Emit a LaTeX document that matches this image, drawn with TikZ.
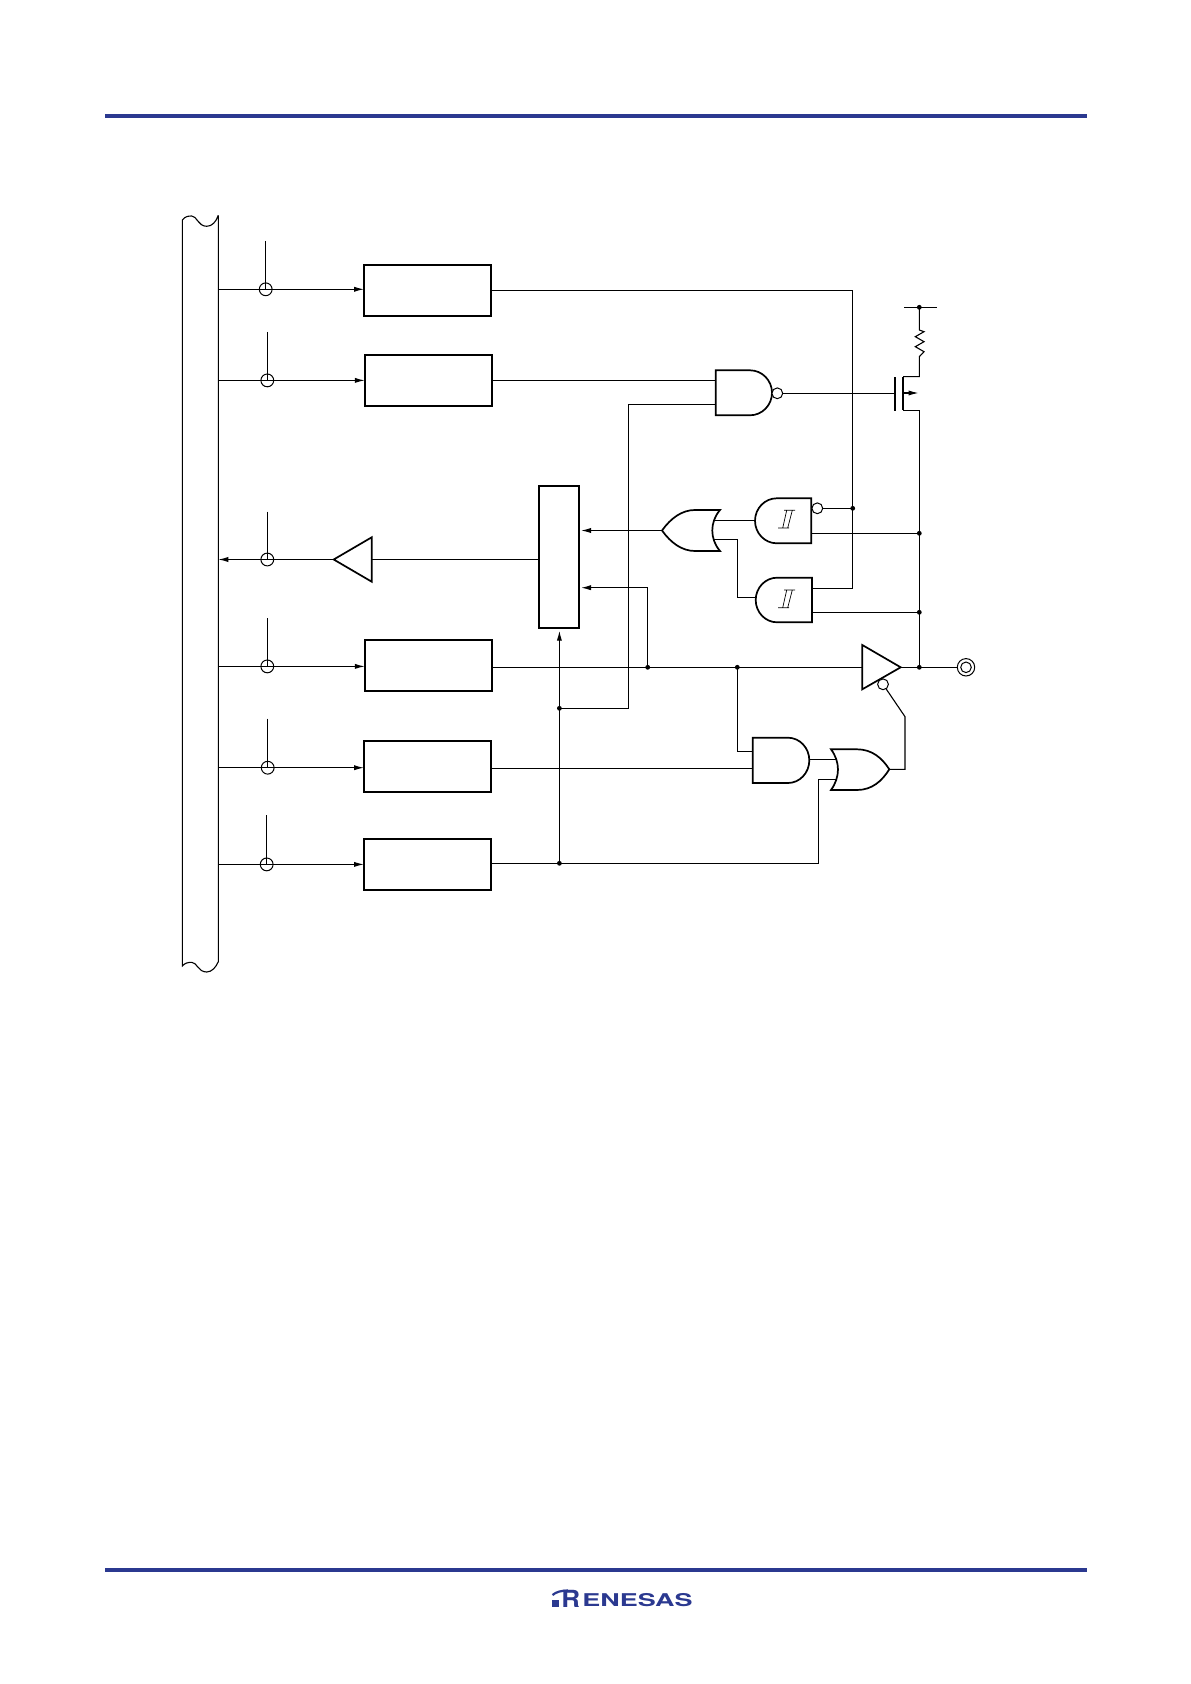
\documentclass[tikz,border=0pt]{standalone}
\usepackage{fontspec}
\setmainfont{TeX Gyre Heros}
\usetikzlibrary{arrows.meta,calc}
\definecolor{renblue}{HTML}{2B3990}
\tikzset{
  wire/.style={line width=0.55pt,line join=miter},
  thin wire/.style={line width=0.35pt},
  gate/.style={line width=0.85pt,line join=miter,fill=white},
  regbox/.style={draw,line width=0.85pt,inner sep=0pt,outer sep=0pt,minimum width=63.65pt,minimum height=25.5pt},
  muxbox/.style={draw,line width=0.85pt,inner sep=0pt,outer sep=0pt,minimum width=20pt,minimum height=71pt},
  junction/.style={circle,fill=black,inner sep=0pt,minimum size=2.4pt},
  bubble/.style={circle,draw,line width=0.5pt,fill=white,inner sep=0pt,outer sep=0pt,minimum size=5.4pt},
  tap/.style={circle,draw,line width=0.5pt,inner sep=0pt,outer sep=0pt,minimum size=6.4pt},
  ring/.style={circle,draw,line width=0.5pt,inner sep=0pt,outer sep=0pt},
  tip/.style={-{Latex[length=5pt,width=2.6pt]}},
  rule/.style={color=renblue,line width=2pt}
}
\newcommand{\gatepath}[6][gate]{%
  \pgfmathsetmacro{\gm}{(#5+#6)/2}%
  \pgfmathsetmacro{\gxa}{#3+0.55*(#4-#3)}%
  \pgfmathsetmacro{\gya}{\gm-0.55*(\gm-#5)}%
  \pgfmathsetmacro{\gyb}{\gm+0.55*(\gm-#5)}%
  \draw[#1] (#2,#5) -- (#3,#5) .. controls (\gxa,#5) and (#4,\gya) .. (#4,\gm)
    .. controls (#4,\gyb) and (\gxa,#6) .. (#3,#6) -- (#2,#6) -- cycle;}
\newcommand{\schmittmark}[2]{%
  \begin{scope}[shift={(#1,#2)}]
    \draw[thin wire] (0,17.7) -- (11,17.7) (6,0) -- (17,0)
      (4.7,17.7) -- (8.7,0) (9.7,17.7) -- (14.3,0);
  \end{scope}}
\begin{document}
\begin{tikzpicture}[x=0.5pt,y=-0.5pt]
\useasboundingbox (0,0) rectangle (1190,1684);
% page rules
\coordinate (ruleTL) at (105,115.7);
\coordinate (ruleTR) at (1087,115.7);
\coordinate (ruleBL) at (105,1570);
\coordinate (ruleBR) at (1087,1570);
\draw[rule] (ruleTL) -- (ruleTR);
\draw[rule] (ruleBL) -- (ruleBR);
% logo
\node[inner sep=0pt,anchor=base west,text=renblue] (logoR) at (561,1607)
  {\fontsize{11.8pt}{11.8pt}\bfseries\scalebox{1.1}[1]{R}};
\node[inner sep=0pt,anchor=base west,text=renblue] (logoE) at (582,1606.7)
  {\fontsize{8.8pt}{8.8pt}\bfseries\scalebox{1.53}[1]{ENESAS}};
\fill[renblue] (552,1600) rectangle (559,1606.5);
\draw[renblue,line width=1.1pt] (552.5,1595) .. controls (556,1592) and (561,1590.5) .. (568,1590.5);
% bus
\draw[wire] (218.3,215.3) -- (218.3,961.7)
  .. controls (216,967) and (212,972) .. (206.7,972)
  .. controls (198,972) and (197,962.3) .. (191.7,962.3)
  .. controls (188,962.3) and (185,963) .. (182.3,966)
  -- (182.3,220)
  .. controls (185,216.5) and (188,216) .. (191.7,216)
  .. controls (197,216) and (198,226.3) .. (206.7,226.3)
  .. controls (212,226.3) and (216,222) .. (218.3,215.3);
% register boxes
\node[regbox] (reg1) at (427.65,290.5) {};
\node[regbox] (reg2) at (428.5,380.5) {};
\node[regbox] (reg4) at (428.5,665.35) {};
\node[regbox] (reg5) at (427.65,766.5) {};
\node[regbox] (reg6) at (427.65,864.5) {};
\node[muxbox] (mux) at (559,556.7) {};
% bus taps
\coordinate (bus1) at (218.3,289.3);
\coordinate (bus2) at (218.3,380.4);
\coordinate (bus3) at (218.3,559.5);
\coordinate (bus4) at (218.3,666.4);
\coordinate (bus5) at (218.3,767.7);
\coordinate (bus6) at (218.3,864.4);
\node[tap] (tap1) at (265.7,289.3) {};
\node[tap] (tap2) at (267.3,380.4) {};
\node[tap] (tap3) at (267.3,559.5) {};
\node[tap] (tap4) at (267.3,666.4) {};
\node[tap] (tap5) at (267.7,767.7) {};
\node[tap] (tap6) at (266.7,864.4) {};
\coordinate (ctl1) at (265.7,241);
\coordinate (ctl2) at (267.3,332);
\coordinate (ctl3) at (267.3,511.7);
\coordinate (ctl4) at (267.3,618.3);
\coordinate (ctl5) at (267.7,718.7);
\coordinate (ctl6) at (266.7,815);
\foreach \i in {1,...,6} {\draw[wire] (ctl\i) -- (tap\i.center);}
\foreach \i in {1,2,4,5,6} {\draw[wire,tip] (bus\i) -- (bus\i -| reg\i.west);}
% input buffer
\coordinate (ibTip) at (333.7,559.5);
\coordinate (ibBase) at (371.7,559.5);
\draw[wire,tip] (ibTip) -- (bus3);
\draw[wire] (mux.west |- ibBase) -- (ibBase);
\draw[gate] (ibTip) -- (371.7,537.3) -- (371.7,581.7) -- cycle;
% junction points
\node[junction] (jVdd) at (919.3,307.3) {};
\node[junction] (jPr) at (852.7,508.3) {};
\node[junction] (jA) at (919.3,533.3) {};
\node[junction] (jB) at (919.3,612.3) {};
\node[junction] (jOut) at (919.3,667.3) {};
\node[junction] (jC) at (737.3,667.3) {};
\node[junction] (jD) at (647.7,667.3) {};
\node[junction] (jE) at (559.4,708.3) {};
\node[junction] (jF) at (559.4,863.3) {};
% corner coordinates
\coordinate (nandA) at (715.7,380.4);
\coordinate (nandB) at (715.7,404.3);
\coordinate (stA) at (812,588.3);
\coordinate (stB) at (812,612.3);
\coordinate (stC) at (811.3,533.3);
\coordinate (orLa) at (713,520.4);
\coordinate (orLb) at (714,539.3);
\coordinate (st1In) at (755,520.4);
\coordinate (st2In) at (755.7,597.3);
\coordinate (orLout) at (662,530.5);
\coordinate (andA) at (752.7,751.3);
\coordinate (andB) at (752.7,768.3);
\coordinate (andOut) at (809.3,759.3);
\coordinate (orRa) at (836.5,759.3);
\coordinate (orRb) at (838,779.3);
\coordinate (orRout) at (889.3,769.3);
\coordinate (bufIn) at (862.3,667.3);
\coordinate (bufOut) at (900.7,667.3);
\coordinate (kink) at (905,716.7);
\coordinate (kinkB) at (905,769.3);
% wires
\draw[wire] (reg1.east |- 0,290.3) -- (852.7,290.3) |- (stA);
\draw[wire] (reg2.east |- nandA) -- (nandA);
\draw[wire] (nandB) -| (628.7,708.3) -- (jE.center);
\draw[wire] (reg4.east |- jD) -- (bufIn);
\draw[wire] (reg5.east |- andB) -- (andB);
\draw[wire] (reg6.east |- jF) -- (818.7,863.3) |- (orRb);
\draw[wire,tip] (jF.center) -- (559.4,630.7);
\draw[wire,tip] (orLout) -- (581,530.5);
\draw[wire,tip] (jD.center) |- (581,587.7);
\draw[wire] (jC.center) |- (andA);
\draw[wire] (andOut) -- (orRa);
\draw[wire] (orLa) -- (st1In);
\draw[wire] (orLb) -| (737.3,597.3) -- (st2In);
\draw[wire] (stC) -- (jA.center);
\draw[wire] (stB) -- (jB.center);
% NAND gate
\gatepath{715.7}{750}{772}{370.3}{415.3}
\node[bubble] (bubNand) at (777.3,393.3) {};
\coordinate (mosG) at (895,393.3);
\draw[wire] (bubNand) -- (mosG);
% MOSFET and pull-up
\draw[line width=0.85pt] (895,377.3) -- (895,410.7);
\draw[line width=0.85pt] (903,376.7) -- (903,410.3);
\draw[wire] (jVdd.center) -- (919.3,330) -- (924,331.7) -- (915.3,336.7) -- (924,341.7)
  -- (915.3,346.7) -- (924,351.7) -- (919.3,356.7) -- (919.3,376.7) -- (903,376.7);
\draw[wire] (903,410.3) -- (919.3,410.3) -- (jOut.center);
\draw[wire,-{Latex[length=5pt,width=2.6pt]}] (903,393) -- (918.5,393);
\coordinate (vddL) at (904.3,307.3);
\coordinate (vddR) at (936.7,307.3);
\draw[wire] (vddL) -- (vddR);
% Schmitt AND gates
\gatepath{811.3}{776.7}{755}{498.3}{543.3}
\schmittmark{778}{510.3}
\node[bubble] (bubSt) at (817.3,508.3) {};
\draw[wire] (bubSt) -- (jPr.center);
\gatepath{812}{777}{755.7}{577.7}{622.3}
\schmittmark{778}{590}
% left-facing OR gate
\draw[gate] (orLout) .. controls (671,518) and (682,510) .. (695,510) -- (720,510)
  .. controls (709.7,522) and (709.7,539) .. (720,551) -- (695,551)
  .. controls (682,551) and (671,543) .. (orLout) -- cycle;
% AND gate
\gatepath{752.7}{788}{809.3}{737.7}{783}
% right-facing OR gate
\draw[gate] (831,749.3) .. controls (840.3,762) and (840.3,777) .. (831,790) -- (857,790)
  .. controls (872,790) and (882,781) .. (orRout)
  .. controls (882,758) and (872,749.3) .. (857,749.3) -- cycle;
% output buffer
\draw[gate] (862.3,645) -- (bufOut) -- (862.3,689.3) -- cycle;
\node[bubble] (bubEn) at (883,684.3) {};
\draw[wire] (bubEn) -- (kink) -- (kinkB) -- (orRout);
% output pin
\node[ring,minimum size=8.7pt] (pinOut) at (966,667.3) {};
\node[ring,minimum size=5.3pt] (pinIn) at (966,667.3) {};
\draw[wire] (bufOut) -- (pinOut);
\end{tikzpicture}
\end{document}
